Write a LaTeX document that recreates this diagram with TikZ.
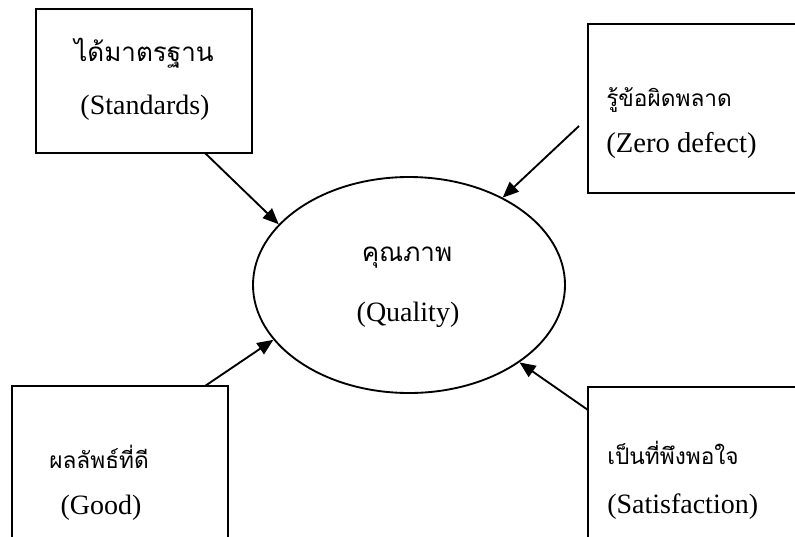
\documentclass[tikz,border=0pt]{standalone}
\usepackage{fontspec}
\setmainfont{Liberation Serif}
\newfontfamily\thaifont[Script=Thai]{Loma}
\usetikzlibrary{shapes.geometric,arrows.meta,calc}
\begin{document}
\begin{tikzpicture}[x=0.75pt,y=-0.75pt,
  boxst/.style={draw,line width=1.4pt,rectangle,inner sep=0pt},
  lat/.style={font=\fontsize{21}{24}\selectfont,inner sep=0pt},
  th/.style={font=\thaifont\fontsize{17}{20}\selectfont,inner sep=0pt},
  thbig/.style={font=\thaifont\fontsize{19.5}{22}\selectfont,inner sep=0pt},
  conn/.style={line width=1.4pt,-{Triangle[length=12pt,width=10pt]}}]
\useasboundingbox (0,0) rectangle (795,536);
\clip (0,0) rectangle (795,536);
% boxes
\node[boxst,minimum width=162pt,minimum height=108pt] (b1) at (144,81) {};
\node[boxst,minimum width=174pt,minimum height=126.75pt] (b2) at (704,108.5) {};
\node[boxst,minimum width=162pt,minimum height=130pt] (b3) at (120,473) {};
\node[boxst,minimum width=174pt,minimum height=130pt] (b4) at (704,474) {};
% ellipse
\node[draw,ellipse,line width=1.4pt,minimum width=234pt,minimum height=162pt,inner sep=0pt] (q) at (409,285) {};
% texts
\node[thbig] (t1a) at (144,53) {ได้มาตรฐาน};
\node[lat] (t1b) at (145,108) {(Standards)};
\node[th,anchor=west] (t2a) at (606,100) {รู้ข้อผิดพลาด};
\node[lat,anchor=west,font=\fontsize{21.5}{24}\selectfont] (t2b) at (606,145) {(Zero defect)};
\node[th] (t3a) at (99,457) {ผลลัพธ์ที่ดี};
\node[lat] (t3b) at (101,508) {(Good)};
\node[th,anchor=west] (t4a) at (607,453) {เป็นที่พึงพอใจ};
\node[lat,anchor=west] (t4b) at (607,507) {(Satisfaction)};
\node[thbig] (tqa) at (407,258) {คุณภาพ};
\node[lat] (tqb) at (408,315) {(Quality)};
% connector start points
\coordinate (s1) at (205,153);
\coordinate (s2) at (579,126);
\coordinate (s3) at (205,386);
\coordinate (s4) at (588,410);
\draw[conn] (s1) -- (q.155);
\draw[conn] (s2) -- (q.43);
\draw[conn] (s3) -- (q.202);
\draw[conn] (s4) -- (q.325);
\end{tikzpicture}
\end{document}
